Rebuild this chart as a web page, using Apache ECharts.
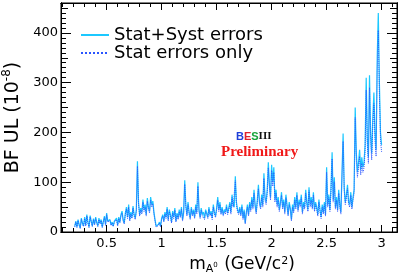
<!DOCTYPE html>
<html><head><meta charset="utf-8">
<script src="https://cdn.jsdelivr.net/npm/echarts@6/dist/echarts.min.js"></script>
<style>html,body{margin:0;padding:0;background:#fff}#c{width:402px;height:277px}</style>
</head><body><div id="c"></div>
<script>
// mass grid (GeV/c^2): first point and spacing of the scan
const massStart = 0.21, massStep = 0.01;
// BF upper limits (10^-8), Stat+Syst errors
const statSyst = [
 12,22,10,25,15,8,28,18,12,30,
 14,35,20,10,33,22,12,27,16,30,
 20,12,28,18,25,10,22,32,15,38,
 22,18,25,15,20,12,22,18,28,14,
 30,20,35,42,25,18,38,50,30,55,
 25,40,30,52,35,28,45,142,60,35,
 48,40,65,45,55,35,68,50,42,70,
 55,62,40,25,12,8,15,20,12,28,
 35,22,40,30,50,25,45,35,20,42,
 30,48,22,38,28,45,32,50,25,40,
 104,55,35,60,40,28,50,35,45,30,
 55,40,100,45,30,48,35,40,28,45,
 38,30,50,35,42,28,55,40,32,48,
 70,45,60,38,50,35,45,40,55,38,
 48,60,40,75,55,50,112,60,45,38,
 50,35,55,28,45,18,40,55,35,60,
 45,70,50,85,55,40,65,95,60,50,
 75,55,118,70,60,85,140,95,70,135,
 100,130,65,85,55,70,45,60,80,50,
 65,40,75,55,35,60,48,25,55,42,
 70,50,80,45,65,55,75,40,60,50,
 85,60,45,90,55,70,50,80,45,60,
 50,35,65,45,30,55,40,60,35,130,
 55,75,45,90,160,65,110,50,70,45,
 85,55,40,120,198,90,60,75,95,60,
 55,80,50,70,85,250,160,120,140,165,
 125,150,130,140,175,310,190,150,315,200,
 158,230,280,200,165,350,440,300,200,175
];
// BF upper limits (10^-8), Stat errors only
const statOnly = [
 10,20,9,23,13,7,26,16,11,27,
 12,32,18,9,30,20,11,25,14,27,
 18,11,25,16,23,9,20,29,13,35,
 20,16,23,13,18,11,20,16,25,12,
 27,18,32,38,22,16,35,46,27,50,
 22,36,27,48,32,25,41,132,55,32,
 44,36,60,41,50,32,62,46,38,64,
 50,57,36,22,10,6,13,18,10,25,
 32,20,36,27,46,22,41,32,18,38,
 27,44,20,35,25,41,29,46,22,36,
 96,50,32,55,36,25,46,32,41,27,
 50,36,92,41,27,44,32,36,25,41,
 35,27,46,32,38,25,50,36,29,44,
 64,41,55,35,46,32,41,36,50,35,
 44,55,36,69,50,46,103,55,41,35,
 46,32,50,25,41,16,36,50,32,55,
 41,64,46,78,50,36,60,87,55,46,
 69,50,108,64,55,78,129,87,64,124,
 92,120,60,78,50,64,41,55,74,46,
 60,36,69,50,32,55,44,22,50,38,
 64,46,74,41,60,50,69,36,55,46,
 78,55,41,83,50,64,46,74,41,55,
 46,32,60,41,27,50,36,55,32,120,
 50,69,41,83,147,60,101,46,64,41,
 78,50,36,110,182,83,55,69,87,55,
 50,74,46,64,78,230,147,110,129,152,
 115,138,120,129,161,285,175,138,290,184,
 145,212,258,184,152,322,405,276,184,161
];
const seriesNames = ['Stat+Syst errors', 'Stat errors only'];
const xRange = [0.085, 3.14];
const yRange = [0, 460];

const toPairs = vals => vals.map((v, i) => [+(massStart + i * massStep).toFixed(3), v]);
const FONT = 'DejaVu Sans';

function xAx(pos, split, len, labels) {
  return {
    type: 'value', position: pos, min: xRange[0], max: xRange[1], splitNumber: split,
    axisLine: { show: true, onZero: false, lineStyle: { color: '#000', width: 1 } },
    axisTick: { show: true, inside: true, length: len, lineStyle: { color: '#000', width: 1 } },
    axisLabel: labels ? { show: true, color: '#000', fontFamily: FONT, fontSize: 13, margin: 5,
      showMinLabel: false, showMaxLabel: false } : { show: false },
    splitLine: { show: false }
  };
}
function yAx(pos, interval, len, labels) {
  return {
    type: 'value', position: pos, min: yRange[0], max: yRange[1], interval: interval,
    axisLine: { show: true, onZero: false, lineStyle: { color: '#000', width: 1 } },
    axisTick: { show: true, inside: true, length: len, lineStyle: { color: '#000', width: 1 } },
    axisLabel: labels ? { show: true, color: '#000', fontFamily: FONT, fontSize: 13, margin: 3,
      showMaxLabel: false } : { show: false },
    splitLine: { show: false }
  };
}

const xMain = xAx('bottom', 6, 7, true);
xMain.name = '{t|m}{sub|A}{sub0|0}{t| (GeV/c}{sup|2}{t|)}';
xMain.nameLocation = 'middle';
xMain.nameGap = 23;
xMain.nameTextStyle = {
  padding: [0, 0, 0, 26],
  rich: {
    t: { fontFamily: FONT, fontSize: 17, color: '#000', lineHeight: 20 },
    sub: { fontFamily: FONT, fontSize: 11, color: '#000', padding: [9, 0, 0, 0] },
    sub0: { fontFamily: FONT, fontSize: 7, color: '#000', padding: [0, 1, 0, 0] },
    sup: { fontFamily: FONT, fontSize: 11, color: '#000', padding: [0, 0, 8, 0] }
  }
};
const yMain = yAx('left', 100, 10, true);
yMain.name = '{t|BF UL (10}{sup|-8}{t|)}';
yMain.nameLocation = 'middle';
yMain.nameRotate = 90;
yMain.nameGap = 33;
yMain.nameTextStyle = {
  rich: {
    t: { fontFamily: FONT, fontSize: 19, color: '#000', lineHeight: 24 },
    sup: { fontFamily: FONT, fontSize: 12, color: '#000', lineHeight: 13, verticalAlign: 'top' }
  }
};

const option = {
  animation: false,
  backgroundColor: '#fff',
  grid: { left: 61, right: 5, top: 3, bottom: 45, show: true, borderColor: '#000', borderWidth: 1,
    containLabel: false, outerBoundsMode: 'none' },
  legend: {
    data: seriesNames, orient: 'vertical', left: 75, top: 21,
    itemWidth: 28, itemHeight: 10, itemGap: 0,
    itemStyle: { opacity: 0 },
    textStyle: { fontFamily: FONT, fontSize: 18, color: '#000', lineHeight: 18 }
  },
  xAxis: [xMain, xAx('bottom', 31, 4, false), xAx('top', 6, 7, false), xAx('top', 31, 4, false)],
  yAxis: [yMain, yAx('left', 50, 7, false), yAx('left', 10, 5, false),
          yAx('right', 100, 10, false), yAx('right', 50, 7, false), yAx('right', 10, 5, false)],
  graphic: [
    { type: 'text', left: 236, top: 131, style: {
      text: '{b|B}{e|E}{s|S}{i|III}',
      rich: {
        b: { fill: '#1f3fd8', fontFamily: 'Liberation Sans', fontWeight: 'bold', fontSize: 11 },
        e: { fill: '#e0202a', fontFamily: 'Liberation Sans', fontWeight: 'bold', fontSize: 11 },
        s: { fill: '#18a33a', fontFamily: 'Liberation Sans', fontWeight: 'bold', fontSize: 11 },
        i: { fill: '#111', fontFamily: 'Liberation Serif', fontWeight: 'bold', fontSize: 11 }
      } } },
    { type: 'text', left: 221, top: 145, style: {
      text: 'Preliminary', fill: '#f01818', fontFamily: 'Liberation Serif', fontWeight: 'bold', fontSize: 15 } }
  ],
  series: [
    { name: seriesNames[0], type: 'line', xAxisIndex: 0, yAxisIndex: 0, data: toPairs(statSyst),
      showSymbol: false, symbol: 'none', clip: true,
      lineStyle: { color: '#1cc8ff', width: 1.2 }, itemStyle: { color: '#1cc8ff' } },
    { name: seriesNames[1], type: 'line', xAxisIndex: 0, yAxisIndex: 0, data: toPairs(statOnly),
      showSymbol: false, symbol: 'none', clip: true,
      lineStyle: { color: '#2a55ff', width: 1, type: 'dotted' }, itemStyle: { color: '#2a55ff' } }
  ]
};
const chart = echarts.init(document.getElementById('c'), null, { renderer: 'canvas' });
chart.setOption(option);
</script>
</body></html>
